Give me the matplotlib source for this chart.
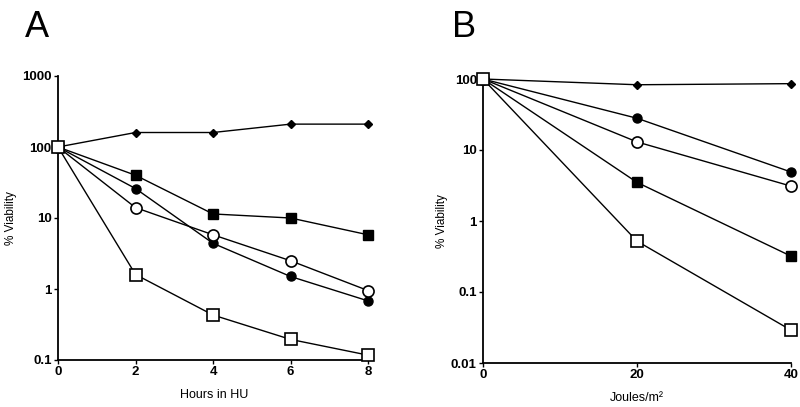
import matplotlib
matplotlib.use("Agg")
import matplotlib.pyplot as plt
from matplotlib.ticker import FixedLocator, FixedFormatter, NullLocator

plt.rcParams['font.family'] = ['Liberation Sans', 'DejaVu Sans']

# Panel A: hours in HU
hours = [0, 2, 4, 6, 8]
a_diamond = [100, 160, 160, 210, 210]
a_fsquare = [100, 40, 11.4, 10, 5.8]
a_fcircle = [100, 26, 4.4, 1.5, 0.68]
a_ocircle = [100, 14, 5.8, 2.5, 0.95]
a_osquare = [100, 1.6, 0.43, 0.195, 0.117]

# Panel B: UV dose
joules = [0, 20, 40]
b_diamond = [100, 83, 86]
b_fcircle = [100, 28, 4.9]
b_ocircle = [100, 13, 3.1]
b_fsquare = [100, 3.5, 0.32]
b_osquare = [100, 0.52, 0.029]

a_yticks = [0.1, 1, 10, 100, 1000]
a_ylabels = ["0.1", "1", "10", "100", "1000"]
b_yticks = [0.01, 0.1, 1, 10, 100]
b_ylabels = ["0.01", "0.1", "1", "10", "100"]

fig = plt.figure(figsize=(8.0, 4.07), dpi=100)
axA = fig.add_axes([58/800, 1-360/407, (370-58)/800, (360-76)/407])
axB = fig.add_axes([483/800, 1-363/407, (791-483)/800, (363-79)/407])

styles = [
    dict(marker='D', ms=4.5, mfc='black', mec='black'),
    dict(marker='s', ms=6.5, mfc='black', mec='black'),
    dict(marker='o', ms=6.5, mfc='black', mec='black'),
    dict(marker='o', ms=8, mfc='white', mec='black', mew=1.2),
    dict(marker='s', ms=8, mfc='white', mec='black', mew=1.2),
]

def draw(ax, x, series):
    for s, st in zip(series, styles):
        ax.plot(x, s, color='black', lw=1.0, clip_on=False, zorder=3, **st)

draw(axA, hours, [a_diamond, a_fsquare, a_fcircle, a_ocircle, a_osquare])
draw(axB, joules, [b_diamond, b_fsquare, b_fcircle, b_ocircle, b_osquare])

def style(ax, xt, yt, yl, xlab, ylim, ypad):
    ax.set_yscale('log')
    ax.set_ylim(*ylim)
    ax.yaxis.set_major_locator(FixedLocator(yt))
    ax.yaxis.set_major_formatter(FixedFormatter(yl))
    ax.yaxis.set_minor_locator(NullLocator())
    ax.set_xticks(xt)
    ax.set_xticklabels([str(v) for v in xt])
    for sp in ['top', 'right']:
        ax.spines[sp].set_visible(False)
    for sp in ['left', 'bottom']:
        ax.spines[sp].set_linewidth(1.3)
    ax.tick_params(axis='both', direction='out', length=3, width=1,
                   labelsize=9.5, pad=1.5)
    for lab in ax.get_xticklabels() + ax.get_yticklabels():
        lab.set_fontweight('bold')
    ax.set_xlabel(xlab, fontsize=9, labelpad=8)
    ax.set_ylabel('% Viability', fontsize=8.5, labelpad=ypad)

style(axA, hours, a_yticks, a_ylabels, 'Hours in HU', (0.1, 1000), 4)
style(axB, joules, b_yticks, b_ylabels, 'Joules/m\u00b2', (0.01, 100), 2)
axA.set_xlim(0, 8.05)
axB.set_xlim(0, 40)

fig.text(25/800, 1-37/407, 'A', fontsize=26, ha='left', va='baseline')
fig.text(452/800, 1-37/407, 'B', fontsize=26, ha='left', va='baseline')

fig.savefig('out.png', dpi=100)
